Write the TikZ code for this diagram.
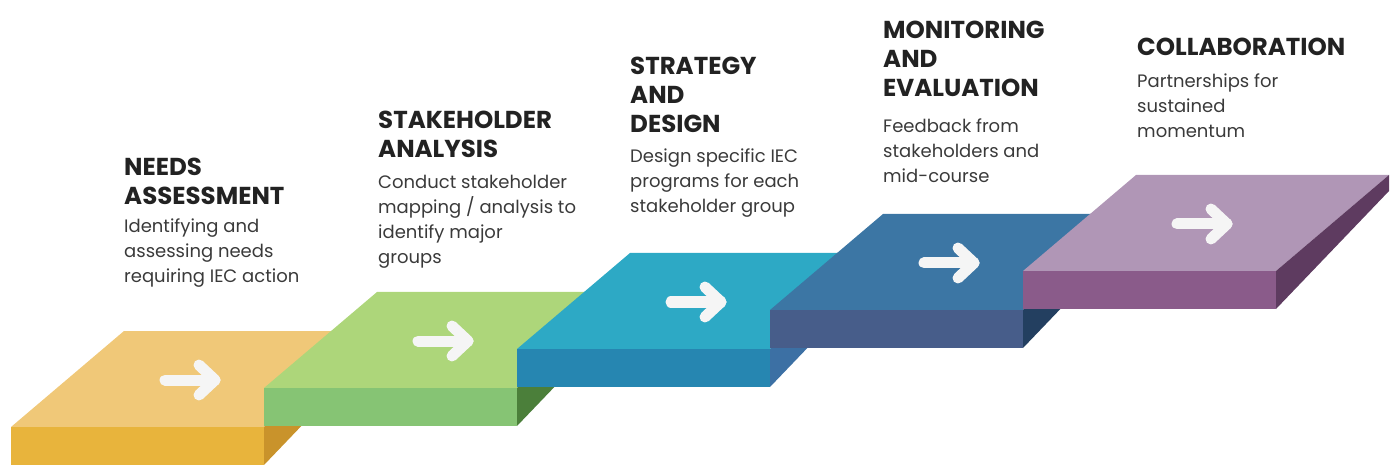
\documentclass[tikz,border=0pt]{standalone}
\usepackage{fontspec}
\setmainfont{Poppins}
\usepackage{tikz}

\definecolor{needstop}{HTML}{F0C878}
\definecolor{needsfront}{HTML}{E8B43C}
\definecolor{needsside}{HTML}{C9932B}
\definecolor{staketop}{HTML}{ADD67A}
\definecolor{stakefront}{HTML}{86C474}
\definecolor{stakeside}{HTML}{4B7F3A}
\definecolor{designtop}{HTML}{2DA9C5}
\definecolor{designfront}{HTML}{2686B1}
\definecolor{designside}{HTML}{3C70A4}
\definecolor{monitortop}{HTML}{3C76A4}
\definecolor{monitorfront}{HTML}{475D8A}
\definecolor{monitorside}{HTML}{233F60}
\definecolor{collabtop}{HTML}{B096B6}
\definecolor{collabfront}{HTML}{8A5B8A}
\definecolor{collabside}{HTML}{5E3B60}
\definecolor{markwhite}{HTML}{F5F5F5}
\definecolor{titleink}{HTML}{222222}
\definecolor{bodyink}{HTML}{3A3A3A}

\tikzset{
  stepmark/.style={draw=markwhite, line width=11pt, line cap=round, line join=round},
  headline/.style={anchor=base west, align=left, inner sep=0pt, text=titleink,
    font=\bfseries\fontsize{24.5}{29}\selectfont},
  bodytext/.style={anchor=base west, align=left, inner sep=0pt, text=bodyink,
    font=\fontsize{18}{25}\selectfont},
}

\begin{document}
\begin{tikzpicture}[x=1pt, y=-1pt]
  \useasboundingbox (0,0) rectangle (1393,465);

  % corners of the steps (front left of the top face)
  \coordinate (needs) at (11,427);
  \coordinate (stake) at (264,388);
  \coordinate (design) at (517,349);
  \coordinate (monitor) at (770,310);
  \coordinate (collab) at (1023,271);

  % needs assessment
  \fill[needstop] (needs) -- ++(113,-96) -- ++(253,0) -- ++(-113,96) -- cycle;
  \fill[needsfront] (needs) rectangle ++(253,38);
  \fill[needsside] (needs) ++(253,0) -- ++(113,-96) -- ++(0,16) -- ++(-113,118) -- cycle;
  \draw[stepmark] (needs) ++(154,-47) -- ++(50,0);
  \draw[stepmark] (needs) ++(188,-62) -- ++(16,15) -- ++(-16,15);

  % stakeholder analysis
  \fill[staketop] (stake) -- ++(113,-96) -- ++(253,0) -- ++(-113,96) -- cycle;
  \fill[stakefront] (stake) rectangle ++(253,38);
  \fill[stakeside] (stake) ++(253,0) -- ++(113,-96) -- ++(0,16) -- ++(-113,118) -- cycle;
  \draw[stepmark] (stake) ++(154,-47) -- ++(50,0);
  \draw[stepmark] (stake) ++(188,-62) -- ++(16,15) -- ++(-16,15);

  % strategy and design
  \fill[designtop] (design) -- ++(113,-96) -- ++(253,0) -- ++(-113,96) -- cycle;
  \fill[designfront] (design) rectangle ++(253,38);
  \fill[designside] (design) ++(253,0) -- ++(113,-96) -- ++(0,16) -- ++(-113,118) -- cycle;
  \draw[stepmark] (design) ++(154,-47) -- ++(50,0);
  \draw[stepmark] (design) ++(188,-62) -- ++(16,15) -- ++(-16,15);

  % monitoring and evaluation
  \fill[monitortop] (monitor) -- ++(113,-96) -- ++(253,0) -- ++(-113,96) -- cycle;
  \fill[monitorfront] (monitor) rectangle ++(253,38);
  \fill[monitorside] (monitor) ++(253,0) -- ++(113,-96) -- ++(0,16) -- ++(-113,118) -- cycle;
  \draw[stepmark] (monitor) ++(154,-47) -- ++(50,0);
  \draw[stepmark] (monitor) ++(188,-62) -- ++(16,15) -- ++(-16,15);

  % collaboration
  \fill[collabtop] (collab) -- ++(113,-96) -- ++(253,0) -- ++(-113,96) -- cycle;
  \fill[collabfront] (collab) rectangle ++(253,38);
  \fill[collabside] (collab) ++(253,0) -- ++(113,-96) -- ++(0,16) -- ++(-113,118) -- cycle;
  \draw[stepmark] (collab) ++(154,-47) -- ++(50,0);
  \draw[stepmark] (collab) ++(188,-62) -- ++(16,15) -- ++(-16,15);

  % labels (placed at the baseline of their last line)
  \node[headline] (needs-title) at (124,205) {NEEDS\\ASSESSMENT};
  \node[bodytext] (needs-text) at (124,283) {Identifying and\\assessing needs\\requiring IEC action};
  \node[headline] (stake-title) at (378,158) {STAKEHOLDER\\ANALYSIS};
  \node[bodytext] (stake-text) at (378,264) {Conduct stakeholder\\mapping / analysis to\\identify major\\groups};
  \node[headline] (design-title) at (630,133) {STRATEGY\\AND\\DESIGN};
  \node[bodytext] (design-text) at (630,213) {Design specific IEC\\programs for each\\stakeholder group};
  \node[headline] (monitor-title) at (883,97) {MONITORING\\AND\\EVALUATION};
  \node[bodytext] (monitor-text) at (883,183) {Feedback from\\stakeholders and\\mid-course};
  \node[headline] (collab-title) at (1137,56) {COLLABORATION};
  \node[bodytext] (collab-text) at (1137,138) {Partnerships for\\sustained\\momentum};
\end{tikzpicture}
\end{document}
